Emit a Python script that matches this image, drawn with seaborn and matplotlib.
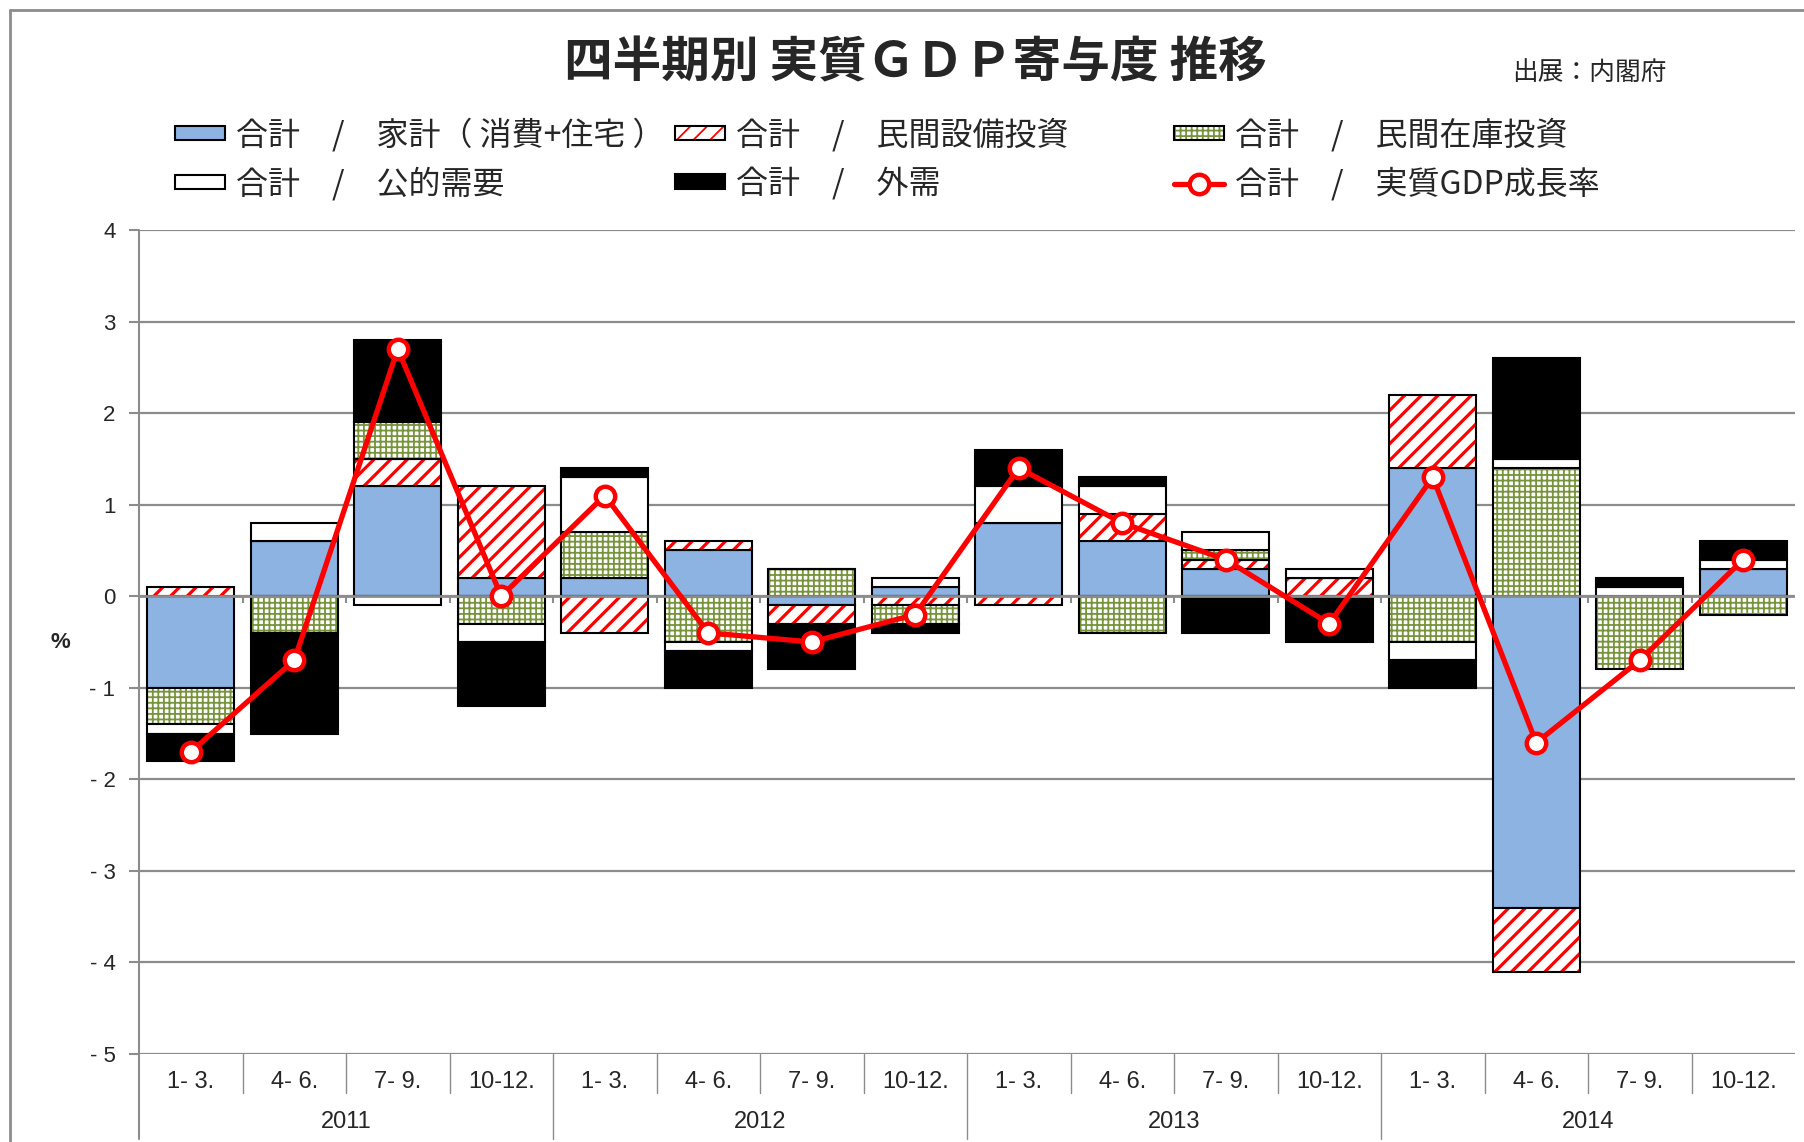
import numpy as np
import matplotlib
matplotlib.use("Agg")
import matplotlib.pyplot as plt
import seaborn as sns
from matplotlib.patches import Patch
from matplotlib.lines import Line2D

# quarterly contributions to real GDP growth (%), 2011 Q1 - 2014 Q4
quarters = ["1- 3.", "4- 6.", "7- 9.", "10-12."] * 4
years = ["2011", "2012", "2013", "2014"]

household = [-1.0, 0.6, 1.2, 0.2, 0.2, 0.5, -0.1, 0.1, 0.8, 0.6, 0.3, 0.0, 1.4, -3.4, 0.0, 0.3]
capex = [0.1, 0.0, 0.3, 1.0, -0.4, 0.1, -0.2, -0.1, -0.1, 0.3, 0.1, 0.2, 0.8, -0.7, 0.0, 0.0]
inventory = [-0.4, -0.4, 0.4, -0.3, 0.5, -0.5, 0.3, -0.2, 0.0, -0.4, 0.1, 0.0, -0.5, 1.4, -0.8, -0.2]
public = [-0.1, 0.2, -0.1, -0.2, 0.6, -0.1, 0.0, 0.1, 0.4, 0.3, 0.2, 0.1, -0.2, 0.1, 0.1, 0.1]
net_exports = [-0.3, -1.1, 0.9, -0.7, 0.1, -0.4, -0.5, -0.1, 0.4, 0.1, -0.4, -0.5, -0.3, 1.1, 0.1, 0.2]
gdp = [-1.7, -0.7, 2.7, 0.0, 1.1, -0.4, -0.5, -0.2, 1.4, 0.8, 0.4, -0.3, 1.3, -1.6, -0.7, 0.4]

labels = ["合計　/　家計（ 消費+住宅 ）", "合計　/　民間設備投資", "合計　/　民間在庫投資",
          "合計　/　公的需要", "合計　/　外需", "合計　/　実質GDP成長率"]

BLUE = "#8db3e2"
GREEN = "#77933c"
GRAY = "#8c8c8c"

# (values, facecolor, hatch, hatch colour, hatch linewidth)
styles = [
    (household, BLUE, None, None, 0),
    (capex, "white", "//", "red", 2.3),
    (inventory, "white", "+++", GREEN, 1.3),
    (public, "white", None, None, 0),
    (net_exports, "black", None, None, 0),
]


def keep_hatch_lw(patch, lw):
    # hatch width comes from rcParams, so pin it for this patch when drawn
    orig = patch.draw

    def draw(renderer):
        with plt.rc_context({"hatch.linewidth": lw}):
            orig(renderer)
    patch.draw = draw
    if hasattr(patch, "set_hatch_linewidth"):
        patch.set_hatch_linewidth(lw)


sns.set_theme(style="white")
plt.rcParams["font.family"] = ["Noto Sans CJK JP", "DejaVu Sans"]

fig = plt.figure(figsize=(18.04, 11.42), dpi=100)
ax = fig.add_axes([139 / 1804, 1 - 1054 / 1142, (1795 - 139) / 1804, (1054 - 230) / 1142])

idx = np.arange(len(gdp))
pos_cum = np.zeros(len(gdp))
neg_cum = np.zeros(len(gdp))

for vals, face, hatch, hcol, hlw in styles:
    v = np.array(vals)
    bottom = np.where(v >= 0, pos_cum, neg_cum)
    pos_cum = pos_cum + np.clip(v, 0, None)
    neg_cum = neg_cum + np.clip(v, None, 0)
    if hatch:
        plt.rcParams["hatch.linewidth"] = hlw
        n0 = len(ax.patches)
        sns.barplot(x=idx, y=v, bottom=bottom, width=0.84, color=face, saturation=1,
                    edgecolor=hcol, linewidth=0, hatch=hatch, errorbar=None, ax=ax, zorder=2)
        for p in ax.patches[n0:]:
            keep_hatch_lw(p, hlw)
        sns.barplot(x=idx, y=v, bottom=bottom, width=0.84, fill=False, color="black",
                    linewidth=1.5, errorbar=None, ax=ax, zorder=2)
    else:
        sns.barplot(x=idx, y=v, bottom=bottom, width=0.84, color=face, saturation=1,
                    edgecolor="black", linewidth=1.5, errorbar=None, ax=ax, zorder=2)

# zero axis line with small category ticks
ax.axhline(0, color=GRAY, lw=2, zorder=3)
ax.vlines(np.arange(0.5, 15.5, 1), -0.07, 0, color=GRAY, lw=1.5, zorder=3)

sns.lineplot(x=idx, y=gdp, color="red", linewidth=3.8, marker="o", markersize=14,
             markerfacecolor="white", markeredgecolor="red", markeredgewidth=3.2,
             ax=ax, zorder=5)

ax.set_xlim(-0.5, 15.5)
ax.set_ylim(-5, 4)
ax.set_yticks(range(-5, 5))
ax.set_yticklabels([str(t) if t >= 0 else f"- {abs(t)}" for t in range(-5, 5)],
                   family="Liberation Sans")
ax.tick_params(axis="y", left=True, length=7, width=1.5, color=GRAY, pad=10, labelsize=16)
ax.set_xticks([])
ax.set_xlabel("")
ax.set_ylabel("")
ax.yaxis.grid(True, color=GRAY, lw=1.6)
ax.set_axisbelow(True)
for s in ax.spines.values():
    s.set_visible(False)

# category table below the plot
tr = ax.get_xaxis_transform()
ax.plot([-0.5, -0.5], [1, -0.103], transform=tr, color=GRAY, lw=1.5, clip_on=False)
for b in np.arange(0.5, 15.5, 1):
    low = -0.103 if b in (3.5, 7.5, 11.5) else -0.047
    ax.plot([b, b], [0, low], transform=tr, color=GRAY, lw=1.0, clip_on=False)
for i, q in enumerate(quarters):
    ax.text(i, -0.034, q, transform=tr, ha="center", va="center", fontsize=17,
            family="Liberation Sans")
for j, y in enumerate(years):
    ax.text(j * 4 + 1.5, -0.0825, y, transform=tr, ha="center", va="center", fontsize=17,
            family="Liberation Sans")

fig.text(60 / 1804, 1 - 642 / 1142, "%", ha="center", va="center", fontsize=16,
         weight="bold", family="Liberation Sans")

# title and source
fig.text(915 / 1804, 1 - 63 / 1142, "四半期別 実質ＧＤＰ寄与度 推移", ha="center", va="center",
         fontsize=35, weight="bold")
fig.text(1589 / 1804, 1 - 73 / 1142, "出展：内閣府", ha="center", va="center", fontsize=18.5)

# outer frame
fig.add_artist(Line2D([10 / 1804, 1], [1 - 10 / 1142] * 2, transform=fig.transFigure, color=GRAY, lw=2))
fig.add_artist(Line2D([10 / 1804] * 2, [0, 1 - 10 / 1142], transform=fig.transFigure, color=GRAY, lw=2))

# legend, three columns of two rows
hp_red = Patch(facecolor="white", edgecolor="red", hatch="//", lw=0)
hp_green = Patch(facecolor="white", edgecolor=GREEN, hatch="+++", lw=0)
keep_hatch_lw(hp_red, 2.3)
keep_hatch_lw(hp_green, 1.3)
h_blue = Patch(facecolor=BLUE, edgecolor="black", lw=1.5)
h_red = (hp_red, Patch(fill=False, edgecolor="black", lw=1.5))
h_green = (hp_green, Patch(fill=False, edgecolor="black", lw=1.5))
h_white = Patch(facecolor="white", edgecolor="black", lw=1.5)
h_black = Patch(facecolor="black", edgecolor="black", lw=1.5)
h_line = Line2D([], [], color="red", lw=3.8, marker="o", markersize=14,
                markerfacecolor="white", markeredgecolor="red", markeredgewidth=3.2)

columns = [([h_blue, h_white], [labels[0], labels[3]], 175),
           ([h_red, h_black], [labels[1], labels[4]], 675),
           ([h_green, h_line], [labels[2], labels[5]], 1174)]
for hs, ls, x0 in columns:
    fig.legend(hs, ls, loc="upper left", bbox_to_anchor=(x0 / 1804, 1 - 118 / 1142),
               frameon=False, fontsize=23, handlelength=1.56, handleheight=0.3,
               handletextpad=0.35, labelspacing=0.48, borderpad=0, borderaxespad=0)

fig.savefig("out.png", dpi=100)
